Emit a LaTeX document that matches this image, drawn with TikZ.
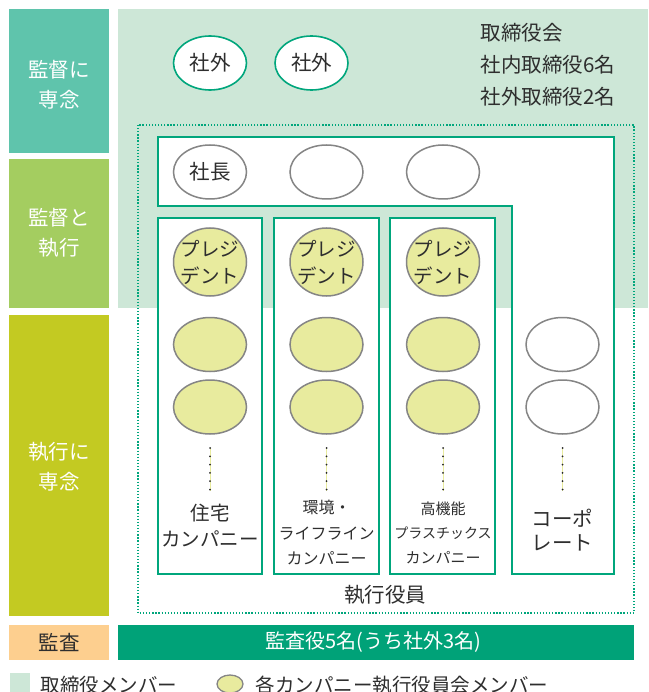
\documentclass[tikz,border=0pt]{standalone}
\usepackage{fontspec}
\setmainfont{Noto Sans CJK JP}
\usetikzlibrary{shapes.geometric}
\definecolor{tealbox}{HTML}{5FC4AC}
\definecolor{greenbox}{HTML}{A4CD60}
\definecolor{olivebox}{HTML}{C3CA22}
\definecolor{orangebox}{HTML}{FDCF8F}
\definecolor{boardbg}{HTML}{CDE7D7}
\definecolor{framegreen}{HTML}{00A67C}
\definecolor{bargreen}{HTML}{00A278}
\definecolor{presfill}{HTML}{E8EB9E}
\definecolor{ellgrey}{HTML}{858585}
\definecolor{txt}{HTML}{2E2E2E}
\tikzset{
  sidelabel/.style={text=white, align=center, font=\fontsize{20.5}{30}\selectfont},
  frameline/.style={draw=framegreen, line width=1.8pt, fill=white},
  dotframe/.style={draw=framegreen, line width=1.3pt, dash pattern=on 1.3pt off 1.8pt},
  outsider/.style={ellipse, draw=framegreen, line width=1.6pt, fill=white, minimum width=73pt, minimum height=54pt, inner sep=0pt},
  member/.style={ellipse, draw=ellgrey, line width=1.5pt, fill=white, minimum width=73pt, minimum height=54pt, inner sep=0pt},
  presmember/.style={member, fill=presfill},
  presbig/.style={presmember, minimum height=68pt},
  bodytext/.style={text=txt, font=\fontsize{20.5}{30}\selectfont},
  legendtext/.style={text=txt, font=\fontsize{19.5}{30}\selectfont},
  coltext/.style={text=txt, align=center},
  vdots/.style={line width=2pt, dash pattern=on 0pt off 8.3pt, line cap=round, draw=black!85},
  vline/.style={line width=0.8pt, draw=presfill},
}
\begin{document}
\begin{tikzpicture}[x=1pt, y=-1pt]
\useasboundingbox (0,0) rectangle (648,692);
\fill[white] (0,0) rectangle (648,692);
% left side boxes
\fill[tealbox] (9,9) rectangle (109,153);
\fill[greenbox] (9,159) rectangle (109,308);
\fill[olivebox] (9,315) rectangle (109,616);
\fill[orangebox] (9,625) rectangle (109,660);
\node[sidelabel] (l1) at (59,85) {監督に\\専念};
\node[sidelabel] (l2) at (59,233) {監督と\\執行};
\node[sidelabel] (l3) at (59,467) {執行に\\専念};
\node[bodytext] (l4) at (59,642) {監査};
% board background
\fill[boardbg] (118,9) rectangle (648,308);
% dotted frame
\draw[dotframe] (138,125) rectangle (634,613);
% L-shaped box
\draw[frameline] (158,137) -- (614,137) -- (614,574) -- (512,574) -- (512,206) -- (158,206) -- cycle;
% company columns
\draw[frameline] (158,218) rectangle (262,574);
\draw[frameline] (274,218) rectangle (379,574);
\draw[frameline] (390,218) rectangle (495,574);
% outside directors
\node[outsider] (o1) at (210,63) {};
\node[bodytext] at (o1) {社外};
\node[outsider] (o2) at (311.5,63) {};
\node[bodytext] at (o2) {社外};
% board text
\node[bodytext, anchor=west] (b1) at (477,33) {取締役会};
\node[bodytext, anchor=west] (b2) at (477,65) {社内取締役6名};
\node[bodytext, anchor=west] (b3) at (477,97) {社外取締役2名};
% top row
\node[member] (m1) at (210,172) {};
\node[bodytext] at (m1) {社長};
\node[member] (m2) at (326.5,172) {};
\node[member] (m3) at (443,172) {};
% presidents
\node[presbig] (p1) at (210,262) {};
\node[coltext, font=\fontsize{19.5}{27}\selectfont] at (p1) {プレジ\\デント};
\node[presbig] (p2) at (326.5,262) {};
\node[coltext, font=\fontsize{19.5}{27}\selectfont] at (p2) {プレジ\\デント};
\node[presbig] (p3) at (443,262) {};
\node[coltext, font=\fontsize{19.5}{27}\selectfont] at (p3) {プレジ\\デント};
% company members
\node[presmember] (a1) at (210,344.5) {};
\node[presmember] (a2) at (210,407) {};
\node[presmember] (b1m) at (326.5,344.5) {};
\node[presmember] (b2m) at (326.5,407) {};
\node[presmember] (c1) at (443,344.5) {};
\node[presmember] (c2) at (443,407) {};
\node[member] (d1) at (562.5,344.5) {};
\node[member] (d2) at (562.5,407) {};
% dots
\coordinate (da) at (210,448); \coordinate (db) at (210,491);
\coordinate (ea) at (326.5,448); \coordinate (eb) at (326.5,491);
\coordinate (fa) at (443,448); \coordinate (fb) at (443,491);
\coordinate (ga) at (562.5,448); \coordinate (gb) at (562.5,491);
\foreach \s/\e in {da/db,ea/eb,fa/fb,ga/gb}{
  \draw[vline] (\s) -- (\e);
  \draw[vdots] (\s) -- (\e);
}
% column labels
\node[coltext, font=\fontsize{19.5}{26}\selectfont] (t1) at (210,526) {住宅\\カンパニー};
\node[coltext, font=\fontsize{16}{25.5}\selectfont] (t2) at (326.5,532.5) {環境・\\ライフライン\\カンパニー};
\node[coltext, font=\fontsize{15}{24.5}\selectfont] (t3) at (443,532.5) {高機能\\{\fontsize{14}{24.5}\selectfont プラスチックス}\\カンパニー};
\node[coltext, font=\fontsize{20.5}{24}\selectfont] (t4) at (562.5,530) {コーポ\\レート};
\node[bodytext] (exec) at (385,595) {執行役員};
% audit bar
\fill[bargreen] (118,625) rectangle (634,660);
\node[text=white, font=\fontsize{20}{24}\selectfont] (audit) at (373,642) {監査役5名(うち社外3名)};
% legend
\fill[boardbg] (10,673) rectangle (30,695);
\node[legendtext, anchor=west] (lg1) at (37,685.5) {取締役メンバー};
\node[presmember, minimum width=26pt, minimum height=18pt, line width=1.3pt] (lge) at (230,684) {};
\node[legendtext, anchor=west] (lg2) at (252,685.5) {各カンパニー執行役員会メンバー};
\end{tikzpicture}
\end{document}
